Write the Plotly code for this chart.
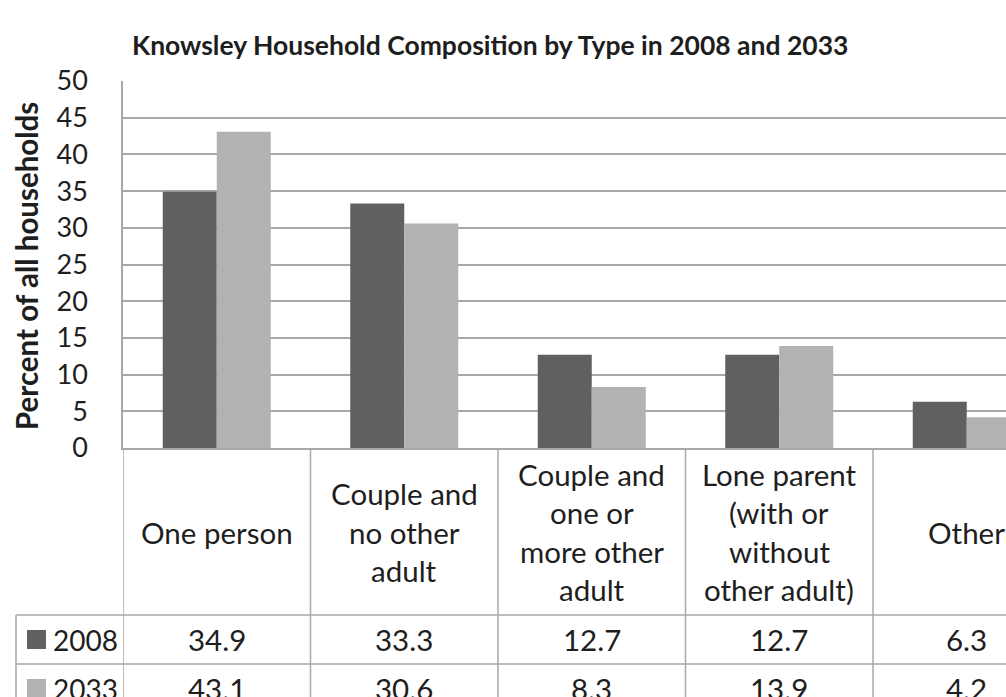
import plotly.graph_objects as go

# ---- data -------------------------------------------------------------
categories = [
    "One person",
    "Couple and<br>no other<br>adult",
    "Couple and<br>one or<br>more other<br>adult",
    "Lone parent<br>(with or<br>without<br>other adult)",
    "Other",
]
years = ["2008", "2033"]
values_2008 = [34.9, 33.3, 12.7, 12.7, 6.3]
values_2033 = [43.1, 30.6, 8.3, 13.9, 4.2]
y_ticks = [0, 5, 10, 15, 20, 25, 30, 35, 40, 45, 50]

# ---- styling / layout constants --------------------------------------
W, H = 1006, 697
DARK = "#606060"
LIGHT = "#b2b2b2"
GRID = "#a8a8a8"
TEXT = "#1e1e1e"
FONT = "Lato"
TABLE_FONT = 29.5
KEY_FONT = 28
LINE_GAP = 38.5      # px between lines of a category label

PLOT_LEFT = 123      # px, left edge of plotting area
PLOT_TOP = 81        # px, value 50
PLOT_BOTTOM = 448    # px, value 0 / top of data table
HEADER_BOTTOM = 615  # px, bottom of the category-label row
ROW_H = 49           # px, height of each data row
TABLE_LEFT = 16      # px, left edge of the legend-key column


def py(p):
    """Pixel row -> paper y."""
    return 1 - p / H


def px(p):
    """Pixel column -> paper x."""
    return p / W


x_idx = list(range(len(categories)))
series = [values_2008, values_2033]
colors = [DARK, LIGHT]

fig = go.Figure()
for name, vals, col in zip(years, series, colors):
    fig.add_trace(go.Bar(
        x=x_idx, y=vals, name=name, marker=dict(color=col, line=dict(width=0)),
        showlegend=False, hoverinfo="skip",
    ))

# visible window on the category axis (last column runs past the edge)
cat_w = 187.5
x_right = (W - PLOT_LEFT) / cat_w - 0.5

fig.update_layout(
    width=W, height=H, autosize=False,
    margin=dict(l=0, r=0, t=0, b=0, pad=0, autoexpand=False),
    paper_bgcolor="white", plot_bgcolor="white",
    barmode="group", bargap=0.424, bargroupgap=0,
    font=dict(family=FONT, color=TEXT),
    xaxis=dict(
        domain=[px(PLOT_LEFT), 1], range=[-0.5, x_right], automargin=False,
        showticklabels=False, showgrid=False, zeroline=False,
        showline=True, linecolor=GRID, linewidth=1.5, ticks="",
    ),
    yaxis=dict(
        domain=[py(PLOT_BOTTOM), py(PLOT_TOP)], range=[0, 50], automargin=False,
        tickvals=y_ticks, ticktext=[str(t) for t in y_ticks],
        tickfont=dict(size=27, family=FONT, color=TEXT),
        ticklabelstandoff=28,
        showgrid=True, gridcolor=GRID, gridwidth=1.5,
        zeroline=False, showline=True, linecolor=GRID, linewidth=1.5,
        ticks="",
    ),
)

# chart title
fig.add_annotation(
    text="<b>Knowsley Household Composition by Type in 2008 and 2033</b>",
    xref="paper", yref="paper", x=px(490), y=py(45),
    showarrow=False, font=dict(size=26.5, family=FONT, color=TEXT),
    xanchor="center", yanchor="middle",
)

# y-axis title
fig.add_annotation(
    text="<b>Percent of all households</b>",
    xref="paper", yref="paper", x=px(26), y=py(266),
    showarrow=False, textangle=-90,
    font=dict(size=29.5, family=FONT, color=TEXT),
    xanchor="center", yanchor="middle",
)

# ---- data table -----------------------------------------------------
line = dict(color=GRID, width=1.5)
row_tops = [HEADER_BOTTOM, HEADER_BOTTOM + ROW_H]

# column separators under the plot
for i in range(len(categories)):
    fig.add_shape(type="line", xref="x", yref="paper",
                  x0=i - 0.5, x1=i - 0.5, y0=py(PLOT_BOTTOM), y1=0, line=line)
# row separators and legend-key column border
for top in row_tops:
    fig.add_shape(type="line", xref="paper", yref="paper",
                  x0=px(TABLE_LEFT), x1=1, y0=py(top), y1=py(top), line=line)
fig.add_shape(type="line", xref="paper", yref="paper",
              x0=px(TABLE_LEFT), x1=px(TABLE_LEFT), y0=py(HEADER_BOTTOM), y1=0,
              line=line)

# category labels, one annotation per text line for Excel-like spacing
header_mid = 532
for i, cat in enumerate(categories):
    parts = cat.split("<br>")
    first = header_mid - LINE_GAP * (len(parts) - 1) / 2
    for k, part in enumerate(parts):
        fig.add_annotation(
            text=part, xref="x", yref="paper", x=i, y=py(first + k * LINE_GAP),
            showarrow=False, font=dict(size=TABLE_FONT, family=FONT, color=TEXT),
            xanchor="center", yanchor="middle",
        )

# value rows with legend keys
for top, name, vals, col in zip(row_tops, years, series, colors):
    mid = top + ROW_H / 2
    fig.add_shape(type="rect", xref="paper", yref="paper",
                  x0=px(27), x1=px(46), y0=py(mid - 9.5), y1=py(mid + 9.5),
                  fillcolor=col, line=dict(width=0))
    fig.add_annotation(
        text=name, xref="paper", yref="paper", x=px(51), y=py(mid),
        showarrow=False, font=dict(size=KEY_FONT, family=FONT, color=TEXT),
        xanchor="left", yanchor="middle",
    )
    for i, v in enumerate(vals):
        fig.add_annotation(
            text=f"{v:.1f}", xref="x", yref="paper", x=i, y=py(mid),
            showarrow=False, font=dict(size=TABLE_FONT, family=FONT, color=TEXT),
            xanchor="center", yanchor="middle",
        )

fig.write_html("out.html")
